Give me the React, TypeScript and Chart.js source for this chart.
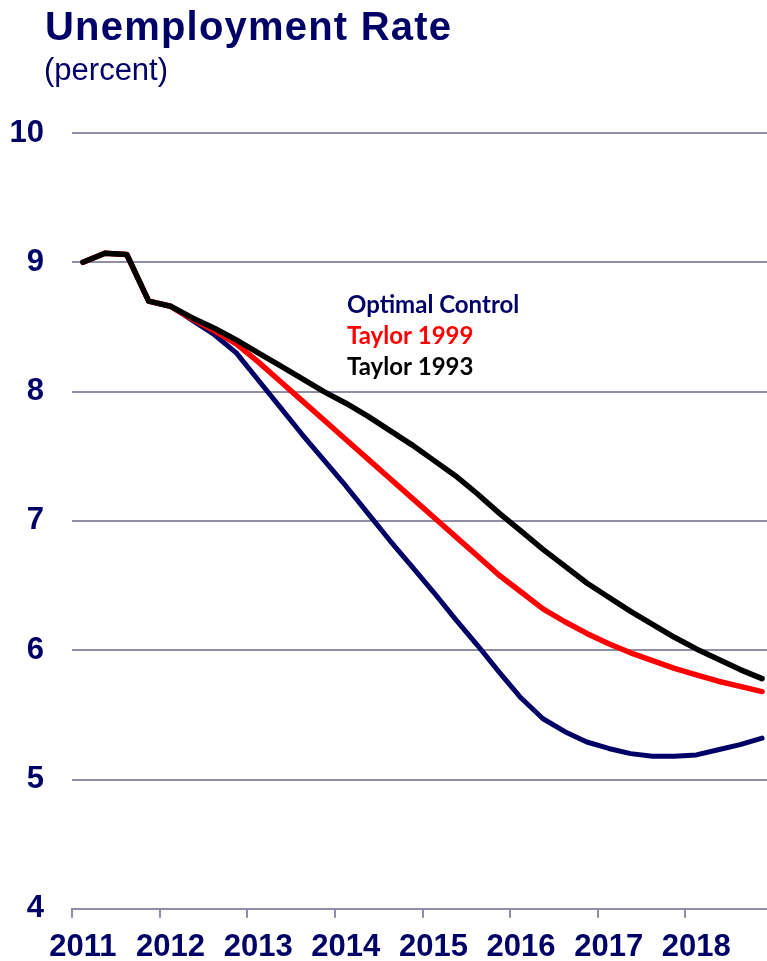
import React, { useEffect, useRef } from 'react';
import { Chart, registerables } from 'chart.js';

Chart.register(...registerables);

const quarters = [
  '2011Q1', '2011Q2', '2011Q3', '2011Q4',
  '2012Q1', '2012Q2', '2012Q3', '2012Q4',
  '2013Q1', '2013Q2', '2013Q3', '2013Q4',
  '2014Q1', '2014Q2', '2014Q3', '2014Q4',
  '2015Q1', '2015Q2', '2015Q3', '2015Q4',
  '2016Q1', '2016Q2', '2016Q3', '2016Q4',
  '2017Q1', '2017Q2', '2017Q3', '2017Q4',
  '2018Q1', '2018Q2', '2018Q3', '2018Q4',
];

const yearLabels = ['2011', '2012', '2013', '2014', '2015', '2016', '2017', '2018'];

const optimalControl = [
  9.0, 9.07, 9.06, 8.7, 8.66, 8.55, 8.44, 8.3,
  8.09, 7.88, 7.67, 7.47, 7.27, 7.06, 6.85, 6.65,
  6.45, 6.24, 6.04, 5.83, 5.63, 5.47, 5.37, 5.29,
  5.24, 5.2, 5.18, 5.18, 5.19, 5.23, 5.27, 5.32,
];

const taylor1999 = [
  9.0, 9.07, 9.06, 8.7, 8.66, 8.56, 8.47, 8.37,
  8.23, 8.08, 7.93, 7.78, 7.63, 7.48, 7.33, 7.18,
  7.03, 6.88, 6.73, 6.58, 6.45, 6.32, 6.22, 6.13,
  6.05, 5.98, 5.92, 5.86, 5.81, 5.76, 5.72, 5.68,
];

const taylor1993 = [
  9.0, 9.07, 9.06, 8.7, 8.66, 8.57, 8.49, 8.4,
  8.3, 8.2, 8.1, 8.0, 7.91, 7.81, 7.7, 7.59,
  7.47, 7.35, 7.21, 7.06, 6.92, 6.78, 6.65, 6.52,
  6.41, 6.3, 6.2, 6.1, 6.01, 5.93, 5.85, 5.78,
];

const seriesNames = ['Optimal Control', 'Taylor 1999', 'Taylor 1993'];
const seriesColors = ['#000066', '#ff0000', '#000000'];

const titleText = 'Unemployment Rate';
const subtitleText = '(percent)';

const NAVY = '#000066';
const GRID = '#8e8ea6';
const ARIAL = '"Liberation Sans", Arial, sans-serif';

const textPlugin = {
  id: 'textPlugin',
  afterDraw(chart: any) {
    const ctx = chart.ctx as CanvasRenderingContext2D;
    ctx.save();
    ctx.textAlign = 'left';
    ctx.textBaseline = 'alphabetic';
    ctx.fillStyle = NAVY;
    ctx.font = `bold 40px ${ARIAL}`;
    try { (ctx as any).letterSpacing = '1.2px'; } catch (e) {}
    ctx.fillText(titleText, 45, 40);
    try { (ctx as any).letterSpacing = '0px'; } catch (e) {}
    ctx.font = `normal 31px ${ARIAL}`;
    ctx.fillText(subtitleText, 44, 80);

    ctx.font = 'bold 24px Lato, "Open Sans", sans-serif';
    const baselines = [313, 344, 375];
    seriesNames.forEach((name, i) => {
      ctx.fillStyle = seriesColors[i];
      ctx.fillText(name, 347, baselines[i]);
    });
    ctx.restore();
  },
};

export default function App() {
  const ref = useRef<HTMLCanvasElement | null>(null);

  useEffect(() => {
    if (!ref.current) return;
    const common = {
      pointRadius: 0,
      tension: 0,
      borderJoinStyle: 'round',
      borderCapStyle: 'round',
    };
    const chart = new Chart(ref.current, {
      type: 'line',
      data: {
        labels: quarters,
        datasets: [
          {
            ...common,
            label: seriesNames[0],
            data: optimalControl,
            borderColor: seriesColors[0],
            backgroundColor: seriesColors[0],
            borderWidth: 5,
            order: 2,
          },
          {
            ...common,
            label: seriesNames[1],
            data: taylor1999,
            borderColor: seriesColors[1],
            backgroundColor: seriesColors[1],
            borderWidth: 5.5,
            order: 1,
          },
          {
            ...common,
            label: seriesNames[2],
            data: taylor1993,
            borderColor: seriesColors[2],
            backgroundColor: seriesColors[2],
            borderWidth: 5.5,
            order: 0,
          },
        ],
      },
      options: {
        animation: false,
        responsive: false,
        maintainAspectRatio: false,
        layout: { padding: { left: 9.5, top: 133, right: 17, bottom: 23 } },
        plugins: {
          legend: { display: false },
          title: { display: false },
          tooltip: { enabled: false },
        },
        scales: {
          x: {
            type: 'category',
            offset: true,
            afterFit: (scale: any) => {
              scale.paddingLeft = 0;
              scale.paddingRight = 0;
            },
            grid: {
              offset: true,
              drawOnChartArea: false,
              drawTicks: true,
              tickLength: 9,
              lineWidth: 2,
              color: (c: any) =>
                c.index === undefined || c.index % 4 === 0 ? GRID : 'rgba(0,0,0,0)',
            },
            border: { display: true, color: GRID, width: 2 },
            ticks: {
              autoSkip: false,
              maxRotation: 0,
              minRotation: 0,
              padding: 11,
              color: NAVY,
              font: { family: ARIAL, size: 31, weight: 'bold' },
              callback: (_v: any, i: number) => (i % 4 === 0 ? yearLabels[i / 4] : ''),
            },
          },
          y: {
            min: 4,
            max: 10,
            afterFit: (scale: any) => {
              scale.width = 62.5;
            },
            grid: {
              color: GRID,
              lineWidth: 2,
              drawTicks: false,
            },
            border: { display: false },
            ticks: {
              stepSize: 1,
              padding: 28,
              color: NAVY,
              font: { family: ARIAL, size: 31, weight: 'bold' },
            },
          },
        },
      },
      plugins: [textPlugin],
    } as any);
    return () => chart.destroy();
  }, []);

  return (
    <div
      style={{
        position: 'absolute',
        left: 0,
        top: 0,
        width: 767,
        height: 961,
        overflow: 'hidden',
        background: '#ffffff',
      }}
    >
      <canvas ref={ref} width={790} height={1000} style={{ display: 'block' }} />
    </div>
  );
}
